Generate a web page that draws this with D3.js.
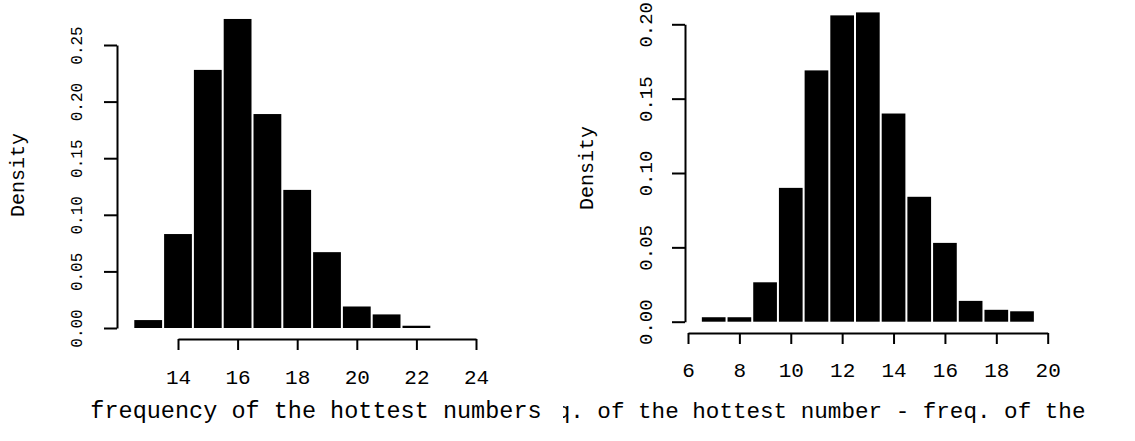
<!DOCTYPE html>
<html lang="en">
<head>
    <meta charset="UTF-8">
    <title>hottest numbers histograms</title>
    <script src="https://d3js.org/d3.v7.min.js"></script>
    <style>
        body { margin: 0; background: #fff; }
        svg text { font-family: "Liberation Mono", "DejaVu Sans Mono", monospace; fill: #000; }
    </style>
</head>
<body>
    <svg id="chart" width="1135" height="441"></svg>
    <script>
        // left histogram: frequency of the hottest numbers (bins of width 1)
        const leftBinStarts = [12.5, 13.5, 14.5, 15.5, 16.5, 17.5, 18.5, 19.5, 20.5, 21.5];
        const leftDensity = [0.007, 0.083, 0.228, 0.273, 0.189, 0.122, 0.067, 0.019, 0.012, 0.002];
        const leftXTicks = [14, 16, 18, 20, 22, 24];
        const leftYTicks = [0, 0.05, 0.10, 0.15, 0.20, 0.25];

        // right histogram: hottest minus coldest
        const rightBinStarts = [6.5, 7.5, 8.5, 9.5, 10.5, 11.5, 12.5, 13.5, 14.5, 15.5, 16.5, 17.5, 18.5];
        const rightDensity = [0.003, 0.003, 0.0265, 0.090, 0.169, 0.206, 0.208, 0.140, 0.084, 0.053, 0.014, 0.008, 0.007];
        const rightXTicks = [6, 8, 10, 12, 14, 16, 18, 20];
        const rightYTicks = [0, 0.05, 0.10, 0.15, 0.20];

        const binWidth = 1;
        const svg = d3.select("#chart");

        function drawHist(cfg) {
            const x = d3.scaleLinear().domain(cfg.xDomain).range(cfg.xRange);
            const y = d3.scaleLinear().domain(cfg.yDomain).range(cfg.yRange);
            const g = svg.append("g");

            const bins = cfg.starts.map((s, i) => ({x0: s, x1: s + binWidth, d: cfg.density[i]}));
            g.selectAll("rect").data(bins).enter().append("rect")
                .attr("x", d => x(d.x0) + 1)
                .attr("width", d => x(d.x1) - x(d.x0) - 2)
                .attr("y", d => y(d.d))
                .attr("height", d => Math.max(1, y(0) - y(d.d)))
                .attr("fill", "#000");

            // y axis, labels parallel to the axis like R
            const yAxis = g.append("g")
                .attr("transform", `translate(${cfg.yAxisX},0)`)
                .call(d3.axisLeft(y).tickValues(cfg.yTicks).tickSize(13).tickSizeOuter(0).tickFormat(d3.format(".2f")));
            yAxis.selectAll("text")
                .attr("transform", "rotate(-90)")
                .attr("x", 0).attr("y", -cfg.yLabelOff).attr("dy", "0.35em")
                .attr("text-anchor", "middle")
                .style("font-size", cfg.yFont + "px");

            // x axis sits a little below the plot
            const xAxis = g.append("g")
                .attr("transform", `translate(0,${cfg.xAxisY})`)
                .call(d3.axisBottom(x).tickValues(cfg.xTicks).tickSize(11).tickSizeOuter(0).tickFormat(d3.format("d")));
            xAxis.selectAll("text")
                .attr("y", cfg.xLabelOff).attr("dy", "0.35em")
                .style("font-size", "21px");

            g.selectAll(".domain, .tick line").attr("stroke", "#000").attr("stroke-width", 2);

            g.append("text")
                .attr("transform", `translate(${cfg.densX},${cfg.densY}) rotate(-90)`)
                .attr("text-anchor", "middle").attr("dy", "0.35em")
                .style("font-size", "20px")
                .text("Density");
        }

        drawHist({
            starts: leftBinStarts, density: leftDensity, xTicks: leftXTicks, yTicks: leftYTicks,
            xDomain: [14, 24], xRange: [178, 476],
            yDomain: [0, 0.25], yRange: [328, 45],
            yAxisX: 117, yLabelOff: 41, yFont: 16,
            xAxisY: 339, xLabelOff: 38,
            densX: 17, densY: 175
        });

        drawHist({
            starts: rightBinStarts, density: rightDensity, xTicks: rightXTicks, yTicks: rightYTicks,
            xDomain: [6, 20], xRange: [688, 1047.7],
            yDomain: [0, 0.20], yRange: [321.7, 24.3],
            yAxisX: 685, yLabelOff: 40, yFont: 19,
            xAxisY: 333, xLabelOff: 37,
            densX: 586, densY: 168
        });

        // x titles; the right one is clipped by its panel like in the scan
        svg.append("text")
            .attr("x", 316).attr("y", 410).attr("dy", "0.35em")
            .attr("text-anchor", "middle")
            .style("font-size", "23.5px")
            .text("frequency of the hottest numbers");

        svg.append("clipPath").attr("id", "rightPanel")
            .append("rect").attr("x", 563).attr("y", 0).attr("width", 572).attr("height", 441);

        svg.append("text")
            .attr("clip-path", "url(#rightPanel)")
            .attr("x", 516).attr("y", 410).attr("dy", "0.35em")
            .style("font-size", "22.6px")
            .text("freq. of the hottest number - freq. of the");
    </script>
</body>
</html>
